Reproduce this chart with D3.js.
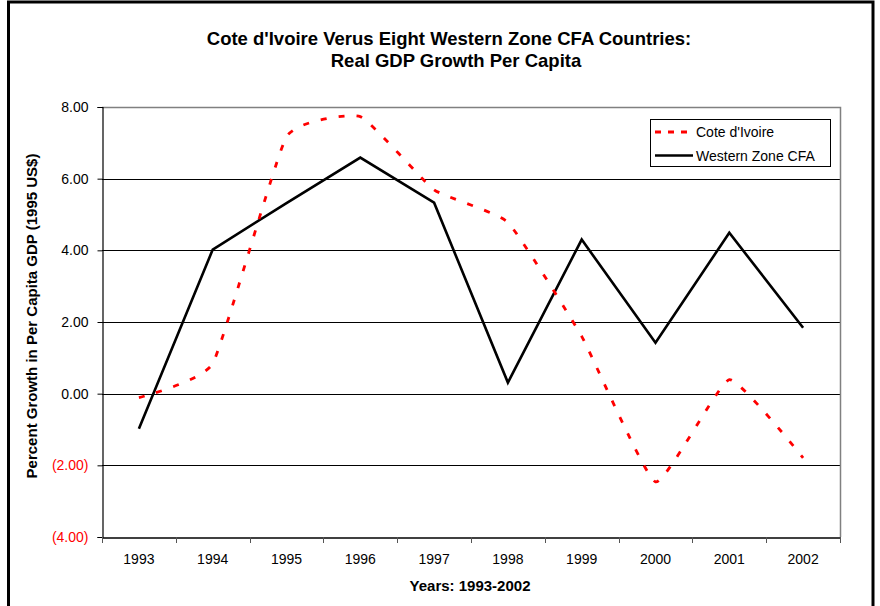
<!DOCTYPE html>
<html>
<head>
<meta charset="utf-8">
<script src="https://cdn.jsdelivr.net/npm/d3@7/dist/d3.min.js"></script>
<style>
  body { margin: 0; background: #fff; }
  svg { display: block; font-family: Arial, "Liberation Sans", sans-serif; }
</style>
</head>
<body>
<svg id="chart" width="880" height="606"></svg>
<script>
const years = ["1993","1994","1995","1996","1997","1998","1999","2000","2001","2002"];
const coteDIvoire = [-0.11, 0.84, 7.17, 7.73, 5.69, 4.78, 1.60, -2.46, 0.39, -1.79];
const westernZone = [-0.98, 4.02, 5.32, 6.59, 5.33, 0.31, 4.30, 1.42, 4.49, 1.84];
const yTicks = [-4, -2, 0, 2, 4, 6, 8];
const seriesNames = ["Cote d'Ivoire", "Western Zone CFA"];

const svg = d3.select("#chart");

// outer chart border
svg.append("rect").attr("x", 8.5).attr("y", 2).attr("width", 864.5).attr("height", 620)
  .attr("fill", "none").attr("stroke", "#000").attr("stroke-width", 3);

const pLeft = 102, pRight = 840, pTop = 107, pBottom = 537;

const x = d3.scaleBand().domain(years).range([pLeft, pRight]);
const y = d3.scaleLinear().domain([-4, 8]).range([pBottom, pTop]);

// gridlines
svg.append("g").selectAll("line").data(yTicks.filter(d => d > -4 && d < 8)).join("line")
  .attr("x1", pLeft).attr("x2", pRight)
  .attr("y1", d => Math.round(y(d)) + 0.5).attr("y2", d => Math.round(y(d)) + 0.5)
  .attr("stroke", "#000").attr("stroke-width", 1);

// plot area border (top & right, gray)
svg.append("path")
  .attr("d", `M${pLeft},${pTop + 0.5}H${pRight + 0.5}V${pBottom}`)
  .attr("fill", "none").attr("stroke", "#808080").attr("stroke-width", 1.5);

// y axis
const fmt = d => d < 0 ? "(" + d3.format(".2f")(-d) + ")" : d3.format(".2f")(d);
const yAxis = svg.append("g").attr("transform", `translate(${pLeft + 0.5},0)`)
  .call(d3.axisLeft(y).tickValues(yTicks).tickSize(5).tickPadding(9).tickFormat(fmt));
yAxis.select(".domain").attr("stroke", "#000").attr("stroke-width", 1.2);
yAxis.selectAll(".tick line").attr("stroke", "#000");
yAxis.selectAll(".tick text")
  .attr("font-size", 14)
  .attr("fill", d => d < 0 ? "#ff0000" : "#000");

// x axis
const xAxis = svg.append("g").attr("transform", `translate(0,${pBottom + 0.5})`)
  .call(d3.axisBottom(x).tickSize(0).tickPadding(17));
xAxis.select(".domain").attr("stroke", "#000").attr("stroke-width", 1.5);
xAxis.selectAll(".tick text").attr("font-size", 14).attr("fill", "#000");
// tick marks at category boundaries
const bounds = years.map(d => x(d)).concat([x(years[years.length - 1]) + x.bandwidth()]);
svg.append("g").selectAll("line").data(bounds).join("line")
  .attr("x1", d => Math.round(d) + 0.5).attr("x2", d => Math.round(d) + 0.5)
  .attr("y1", pBottom).attr("y2", pBottom + 6)
  .attr("stroke", "#555").attr("stroke-width", 1);

const cx = d => x(d) + x.bandwidth() / 2;

// lines
const smooth = d3.line().x((d, i) => cx(years[i])).y(d => y(d)).curve(d3.curveCardinal.tension(0.6));
const straight = d3.line().x((d, i) => cx(years[i])).y(d => y(d));

svg.append("path").datum(westernZone).attr("d", straight)
  .attr("fill", "none").attr("stroke", "#000").attr("stroke-width", 2.6)
  .attr("stroke-linejoin", "miter");

svg.append("path").datum(coteDIvoire).attr("d", smooth)
  .attr("fill", "none").attr("stroke", "#ff0000").attr("stroke-width", 2.8)
  .attr("stroke-dasharray", "6,12");

// titles
svg.append("text").attr("x", 449).attr("y", 45).attr("text-anchor", "middle")
  .attr("font-size", 18.5).attr("font-weight", "bold")
  .text("Cote d'Ivoire Verus Eight Western Zone CFA Countries:");
svg.append("text").attr("x", 456).attr("y", 67).attr("text-anchor", "middle")
  .attr("font-size", 18.5).attr("font-weight", "bold")
  .text("Real GDP Growth Per Capita");

svg.append("text").attr("x", 470).attr("y", 591).attr("text-anchor", "middle")
  .attr("font-size", 15).attr("font-weight", "bold")
  .text("Years: 1993-2002");

svg.append("text").attr("transform", "translate(37,316) rotate(-90)").attr("text-anchor", "middle")
  .attr("font-size", 15).attr("font-weight", "bold")
  .text("Percent Growth in Per Capita GDP (1995 US$)");

// legend
const lg = svg.append("g");
lg.append("rect").attr("x", 650.5).attr("y", 119.5).attr("width", 180).attr("height", 47)
  .attr("fill", "#fff").attr("stroke", "#000").attr("stroke-width", 1);
lg.append("line").attr("x1", 655).attr("x2", 693).attr("y1", 132).attr("y2", 132)
  .attr("stroke", "#ff0000").attr("stroke-width", 2.8).attr("stroke-dasharray", "6,7");
lg.append("line").attr("x1", 655).attr("x2", 693).attr("y1", 155.5).attr("y2", 155.5)
  .attr("stroke", "#000").attr("stroke-width", 2.6);
lg.append("text").attr("x", 696).attr("y", 137).attr("font-size", 14).text(seriesNames[0]);
lg.append("text").attr("x", 696).attr("y", 161).attr("font-size", 14).text(seriesNames[1]);
</script>
</body>
</html>
